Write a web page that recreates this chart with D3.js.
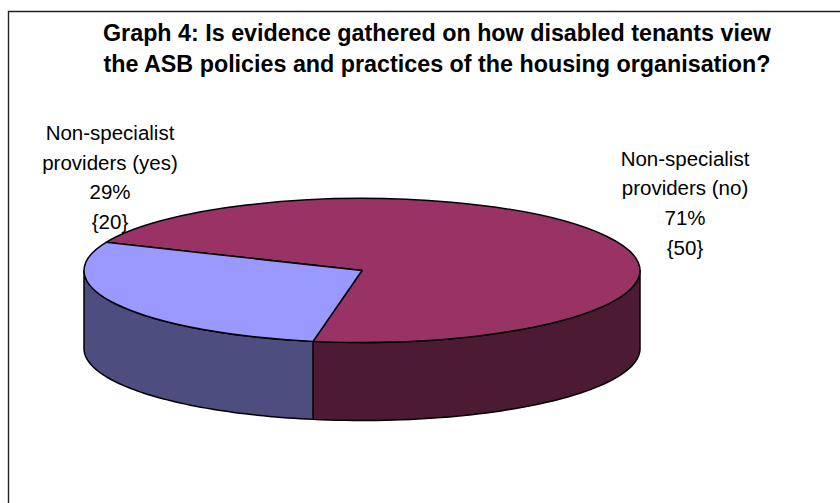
<!DOCTYPE html>
<html><head><meta charset="utf-8">
<script src="https://cdn.jsdelivr.net/npm/d3@7"></script>
<style>html,body{margin:0;padding:0;background:#fff}svg{display:block}text{font-family:"Liberation Sans",Arial,sans-serif;fill:#000}</style>
</head><body><svg id="c" width="840" height="503"></svg>
<script>
const categories = ["Non-specialist providers (no)", "Non-specialist providers (yes)"];
const values = [50, 20];
const percents = ["71%", "29%"];
const topColors = ["#993366", "#9999FF"];
const sideColors = ["#4D1A33", "#4D4D80"];
const titleLines = ["Graph 4: Is evidence gathered on how disabled tenants view", "the ASB policies and practices of the housing organisation?"];
const labelLines = [
  ["Non-specialist", "providers (no)", "71%", "{50}"],
  ["Non-specialist", "providers (yes)", "29%", "{20}"]
];

const svg = d3.select("#c");
const cx = 362, cy = 270.5, rx = 278, ry = 72, depth = 78;
const start = 293.0 * Math.PI / 180;
const arcs = d3.pie().sort(null).startAngle(start).endAngle(start + 2 * Math.PI)(values);
const px = a => cx + rx * Math.sin(a), py = a => cy - ry * Math.cos(a);

svg.append("path").attr("d", d3.line()([[8.5, 503], [8.5, 11.5], [840, 11.5]]))
  .attr("fill", "none").attr("stroke", "#222").attr("stroke-width", 1.4);

// Side walls: the visible front half of the rim, angles PI/2 .. 3PI/2
arcs.forEach((d, i) => {
  const ranges = [[d.startAngle, d.endAngle], [d.startAngle + 2 * Math.PI, d.endAngle + 2 * Math.PI], [d.startAngle - 2 * Math.PI, d.endAngle - 2 * Math.PI]];
  ranges.forEach(([s, e]) => {
    const a0 = Math.max(s, Math.PI / 2), a1 = Math.min(e, 3 * Math.PI / 2);
    if (a1 <= a0) return;
    const pts = d3.range(0, 61).map(k => a0 + (a1 - a0) * k / 60);
    const line = d3.line();
    const top = pts.map(a => [px(a), py(a)]);
    const bot = pts.slice().reverse().map(a => [px(a), py(a) + depth]);
    svg.append("path").attr("d", line(top.concat(bot)) + "Z")
      .attr("fill", sideColors[i]).attr("stroke", "#000").attr("stroke-width", 1.5).attr("stroke-linejoin", "round");
  });
});

// Top faces: d3.arc in a unit circle, squashed into the ellipse
const arc = d3.arc().innerRadius(0).outerRadius(rx);
arcs.forEach((d, i) => {
  svg.append("path").attr("d", arc(d))
    .attr("transform", `translate(${cx},${cy}) scale(1,${ry / rx})`)
    .attr("vector-effect", "non-scaling-stroke")
    .attr("fill", topColors[i]).attr("stroke", "#000").attr("stroke-width", 1.5).attr("stroke-linejoin", "round");
});

titleLines.forEach((t, i) => svg.append("text").attr("x", 437).attr("y", 40.7 + i * 31)
  .attr("text-anchor", "middle").attr("font-size", 23.3).attr("font-weight", "bold").text(t));

const labelX = [685, 110], labelY = [165.5, 140];
labelLines.forEach((lines, i) => lines.forEach((t, j) => {
  svg.append("text").attr("x", labelX[i]).attr("y", labelY[i] + j * 29.7)
    .attr("text-anchor", "middle").attr("font-size", 20.5).text(t);
}));
</script></body></html>
